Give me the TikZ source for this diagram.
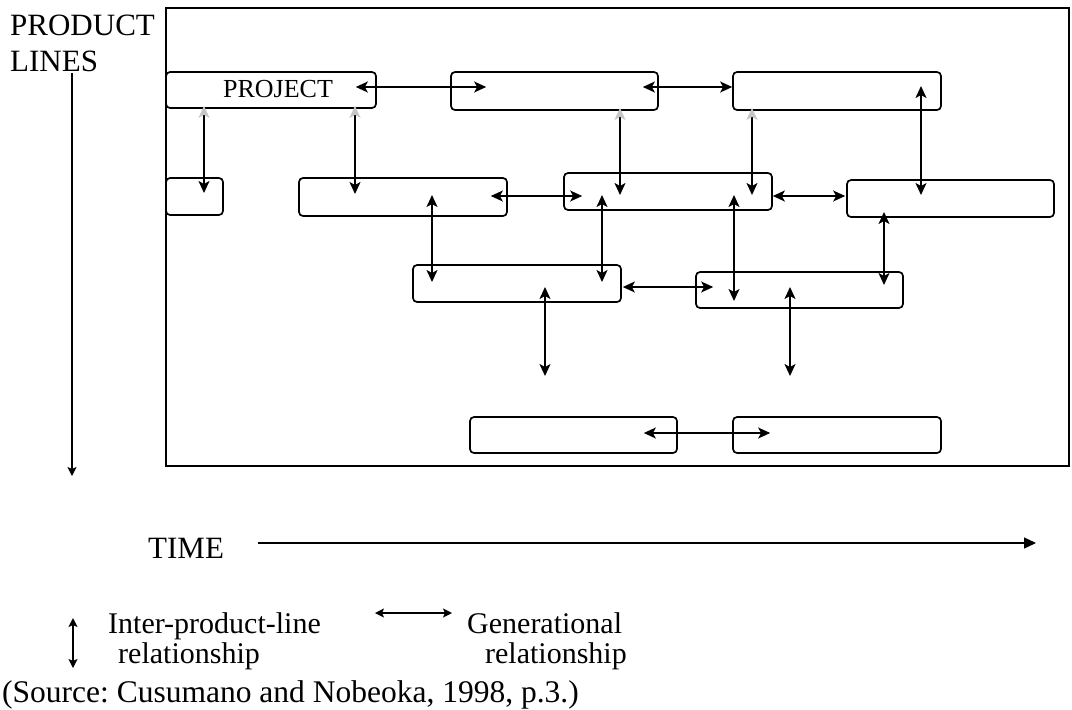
\documentclass[tikz,border=0pt]{standalone}
\usepackage{fontspec}
\setmainfont{Liberation Serif}
\usetikzlibrary{arrows.meta}
\frenchspacing

\tikzset{
  hd/.tip={Stealth[length=12pt,width=11pt,inset=3pt]},
  hdsmall/.tip={Stealth[length=9pt,width=9pt,inset=2pt]},
  hdtime/.tip={Triangle[length=12pt,width=11pt]},
}

\begin{document}
\begin{tikzpicture}[x=1pt,y=-1pt,
  box/.style={draw, line width=1.7pt, rounded corners=4pt, inner sep=0pt},
  frame/.style={draw, line width=1.8pt, inner sep=0pt},
  txt/.style={inner sep=0pt, font=\fontsize{30}{36}\selectfont},
  bigtxt/.style={inner sep=0pt, font=\fontsize{31}{36}\selectfont},
  gen/.style={line width=1.5pt, arrows={hd-hd}},
  inter/.style={line width=1.5pt, arrows={hd-hd}},
  interfaint/.style={line width=1.5pt, arrows={hd[color=gray!45]-hd}},
  interfree/.style={line width=1.5pt, arrows={hd-hd}},
  axis/.style={line width=1.3pt, arrows={-hdsmall}},
  legend/.style={line width=1.3pt, arrows={hdsmall-hdsmall}},
  timeaxis/.style={line width=1.3pt, arrows={-hdtime}},
]
\useasboundingbox (0,0) rectangle (1072,710);

% outer frame of the product-line map
\node[frame, minimum width=903pt, minimum height=458pt] (frame) at (617.5,237) {};

% project boxes, row by row
\node[box, minimum width=210pt, minimum height=36pt,
      label={[inner sep=0pt, font=\fontsize{26}{30}\selectfont, xshift=7pt, yshift=1pt]center:PROJECT}] (A) at (271,90) {};
\node[box, minimum width=207pt, minimum height=38pt] (B) at (554.5,91) {};
\node[box, minimum width=208pt, minimum height=38pt] (C) at (837,91) {};

\node[box, minimum width=57pt,  minimum height=37pt] (D) at (194.5,196.5) {};
\node[box, minimum width=208pt, minimum height=38pt] (E) at (403,197) {};
\node[box, minimum width=208pt, minimum height=37pt] (F) at (668,191.5) {};
\node[box, minimum width=207pt, minimum height=37pt] (G) at (950.5,198.5) {};

\node[box, minimum width=208pt, minimum height=37pt] (H) at (517,283.5) {};
\node[box, minimum width=207pt, minimum height=36pt] (I) at (799.5,290) {};

\node[box, minimum width=207pt, minimum height=36pt] (J) at (573.5,435) {};
\node[box, minimum width=208pt, minimum height=36pt] (K) at (837,435) {};

% generational relationships
\draw[gen] ([xshift=-21pt,yshift=3pt]A.east) -- ([xshift=36pt,yshift=4pt]B.west);
\draw[gen] ([xshift=-16pt,yshift=4pt]B.east) -- ([xshift=0pt,yshift=4pt]C.west);
\draw[gen] ([xshift=-17pt,yshift=1pt]E.east) -- ([xshift=19pt,yshift=-4.5pt]F.west);
\draw[gen] ([xshift=0pt,yshift=-4.5pt]F.east) -- ([xshift=-1pt,yshift=2.5pt]G.west);
\draw[gen] ([xshift=1pt,yshift=-3.5pt]H.east) -- ([xshift=18pt,yshift=3pt]I.west);
\draw[gen] ([xshift=-34pt,yshift=2pt]J.east) -- ([xshift=38pt,yshift=2pt]K.west);

% inter-product-line relationships
\draw[interfaint] ([xshift=-67pt,yshift=3pt]A.south) -- ([xshift=9.5pt,yshift=3.5pt]D.center);
\draw[interfaint] ([xshift=84pt,yshift=3pt]A.south) -- ([xshift=-48pt,yshift=3pt]E.center);
\draw[interfaint] ([xshift=65.5pt,yshift=3pt]B.south) -- ([xshift=-48pt,yshift=-3.5pt]F.center);
\draw[interfaint] ([xshift=-85pt,yshift=3pt]C.south) -- ([xshift=84pt,yshift=-3.5pt]F.center);
\draw[inter] ([xshift=84pt,yshift=5pt]C.center) -- ([xshift=-29.5pt,yshift=3.5pt]G.center);
\draw[inter] ([xshift=29pt,yshift=2pt]E.center) -- ([xshift=-85pt,yshift=1.5pt]H.center);
\draw[inter] ([xshift=-66pt,yshift=-3.5pt]F.center) -- ([xshift=85pt,yshift=1.5pt]H.center);
\draw[inter] ([xshift=66pt,yshift=-3.5pt]F.center) -- ([xshift=-65.5pt,yshift=-11pt]I.center);
\draw[inter] ([xshift=-66.5pt,yshift=-13.5pt]G.center) -- ([xshift=84.5pt,yshift=5pt]I.center);
\coordinate (Hfree) at (545,376);
\coordinate (Ifree) at (790,376);
\draw[interfree] ([xshift=28pt,yshift=-3.5pt]H.center) -- (Hfree);
\draw[interfree] ([xshift=-9.5pt,yshift=3pt]I.center) -- (Ifree);

% product-line axis
\node[bigtxt, anchor=base west] (pl1) at (10,35) {PRODUCT};
\node[bigtxt, anchor=base west] (pl2) at (10,71) {LINES};
\coordinate (axtop) at (72,73);
\coordinate (axbot) at (72,476);
\draw[axis] (axtop) -- (axbot);

% time axis
\node[bigtxt, anchor=base west] (time) at (148,558) {TIME};
\coordinate (t0) at (258,543);
\coordinate (t1) at (1036,543);
\draw[timeaxis] (t0) -- (t1);

% legend
\coordinate (lu) at (73,618);
\coordinate (ld) at (73,668);
\draw[legend] (lu) -- (ld);
\node[txt, anchor=base west] (l1) at (108,633) {Inter-product-line};
\node[txt, anchor=base west] (l2) at (118,663) {relationship};
\coordinate (lg0) at (375,613);
\coordinate (lg1) at (452,613);
\draw[legend] (lg0) -- (lg1);
\node[txt, anchor=base west] (l3) at (467,633) {Generational};
\node[txt, anchor=base east] (l4) at (627,663) {relationship};
\node[inner sep=0pt, font=\fontsize{31.5}{36}\selectfont, anchor=base west] (src) at (2,702) {(Source: Cusumano and Nobeoka, 1998, p.3.)};
\end{tikzpicture}
\end{document}
